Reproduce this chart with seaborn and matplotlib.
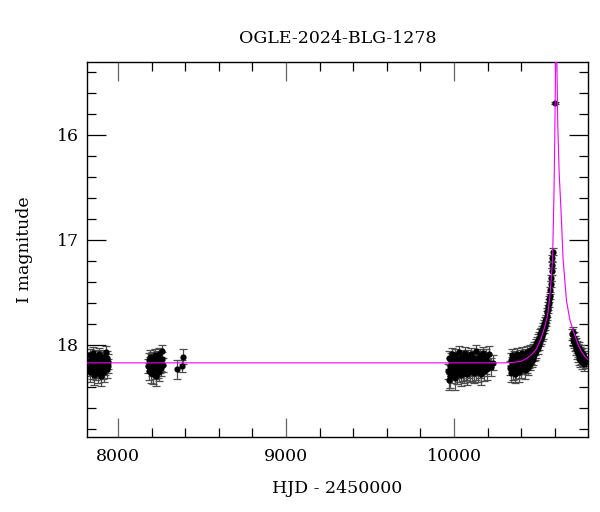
import matplotlib
matplotlib.use("Agg")
import matplotlib.pyplot as plt
import seaborn as sns
import pandas as pd
import numpy as np
from matplotlib.ticker import MultipleLocator

# ---------------- data ----------------
s1_t = [7825, 7828, 7831, 7833, 7836, 7839, 7842, 7845, 7848, 7851,
        7854, 7857, 7860, 7863, 7866, 7869, 7872, 7875, 7878, 7881,
        7884, 7887, 7890, 7893, 7896, 7899, 7902, 7905, 7908, 7911,
        7914, 7917, 7920, 7923, 7926, 7929, 7932, 7935, 7938, 7942]
s1_m = [18.15, 18.22, 18.10, 18.26, 18.18, 18.13, 18.24, 18.20, 18.08, 18.17,
        18.29, 18.14, 18.21, 18.11, 18.25, 18.19, 18.16, 18.23, 18.12, 18.27,
        18.18, 18.09, 18.22, 18.15, 18.30, 18.20, 18.13, 18.17, 18.24, 18.11,
        18.19, 18.26, 18.14, 18.21, 18.07, 18.18, 18.23, 18.12, 18.20, 18.16]
s1_e = [0.07, 0.08, 0.06, 0.09, 0.07, 0.06, 0.08, 0.07, 0.06, 0.07,
        0.09, 0.06, 0.08, 0.06, 0.08, 0.07, 0.06, 0.08, 0.06, 0.09,
        0.07, 0.06, 0.08, 0.07, 0.09, 0.07, 0.06, 0.07, 0.08, 0.06,
        0.07, 0.09, 0.06, 0.08, 0.06, 0.07, 0.08, 0.06, 0.07, 0.07]

s2_t = [8180, 8183, 8186, 8189, 8192, 8195, 8198, 8201, 8204, 8207,
        8210, 8213, 8216, 8219, 8222, 8225, 8228, 8231, 8234, 8237,
        8240, 8243, 8246, 8249, 8252, 8255, 8258, 8261, 8264, 8268]
s2_m = [18.20, 18.14, 18.25, 18.18, 18.11, 18.27, 18.16, 18.22, 18.13, 18.19,
        18.28, 18.15, 18.21, 18.10, 18.24, 18.17, 18.30, 18.19, 18.12, 18.23,
        18.16, 18.26, 18.09, 18.20, 18.14, 18.22, 18.18, 18.06, 18.13, 18.19]
s2_e = [0.07, 0.06, 0.08, 0.07, 0.06, 0.09, 0.07, 0.08, 0.06, 0.07,
        0.09, 0.06, 0.08, 0.06, 0.08, 0.07, 0.09, 0.07, 0.06, 0.08,
        0.07, 0.08, 0.06, 0.07, 0.06, 0.08, 0.07, 0.06, 0.06, 0.07]

iso_t = [8353, 8383, 8389]
iso_m = [18.23, 18.20, 18.11]
iso_e = [0.09, 0.06, 0.07]

s3_t = [9966, 9969, 9972, 9975, 9978, 9981, 9984, 9987, 9990, 9993,
        9996, 9999, 10002, 10005, 10008, 10011, 10014, 10017, 10020, 10023,
        10026, 10029, 10032, 10035, 10038, 10041, 10044, 10047, 10050, 10053,
        10056, 10059, 10062, 10065, 10068, 10071, 10074, 10077, 10080, 10083,
        10086, 10089, 10092, 10095, 10098, 10101, 10104, 10107, 10110, 10113,
        10116, 10119, 10122, 10125, 10128, 10131, 10134, 10137, 10140, 10143,
        10146, 10149, 10152, 10155, 10158, 10161, 10164, 10167, 10170, 10173,
        10176, 10180, 10184, 10188, 10192, 10197, 10202, 10210, 10220, 10232]
s3_m = [18.25, 18.33, 18.12, 18.20, 18.30, 18.15, 18.22, 18.09, 18.27, 18.18,
        18.13, 18.24, 18.19, 18.31, 18.10, 18.21, 18.16, 18.28, 18.14, 18.23,
        18.18, 18.07, 18.26, 18.20, 18.12, 18.29, 18.17, 18.22, 18.11, 18.25,
        18.15, 18.19, 18.27, 18.08, 18.21, 18.16, 18.24, 18.13, 18.28, 18.18,
        18.11, 18.23, 18.17, 18.26, 18.14, 18.20, 18.09, 18.25, 18.19, 18.15,
        18.22, 18.12, 18.27, 18.17, 18.21, 18.06, 18.24, 18.18, 18.13, 18.26,
        18.16, 18.20, 18.10, 18.23, 18.15, 18.28, 18.19, 18.12, 18.22, 18.08,
        18.17, 18.25, 18.14, 18.20, 18.11, 18.23, 18.16, 18.09, 18.21, 18.17]
s3_e = [0.07, 0.10, 0.06, 0.08, 0.11, 0.07, 0.08, 0.06, 0.09, 0.07,
        0.06, 0.08, 0.07, 0.12, 0.06, 0.08, 0.07, 0.09, 0.06, 0.08,
        0.07, 0.06, 0.09, 0.08, 0.06, 0.10, 0.07, 0.08, 0.06, 0.09,
        0.07, 0.08, 0.09, 0.06, 0.08, 0.07, 0.09, 0.06, 0.10, 0.07,
        0.06, 0.08, 0.07, 0.09, 0.06, 0.08, 0.06, 0.09, 0.07, 0.07,
        0.08, 0.06, 0.09, 0.07, 0.08, 0.06, 0.09, 0.07, 0.06, 0.09,
        0.07, 0.08, 0.06, 0.08, 0.07, 0.10, 0.08, 0.06, 0.08, 0.06,
        0.07, 0.09, 0.06, 0.08, 0.07, 0.10, 0.07, 0.08, 0.09, 0.07]

s4_t = [10336, 10339, 10342, 10345, 10348, 10351, 10354, 10357, 10360, 10363,
        10366, 10369, 10372, 10375, 10378, 10381, 10384, 10387, 10390, 10393,
        10396, 10399, 10402, 10405, 10408, 10411, 10414, 10417, 10420, 10423,
        10426, 10429, 10432, 10435, 10438, 10441, 10444, 10447, 10450, 10453,
        10456, 10459, 10462, 10465, 10468, 10471, 10474, 10477, 10480, 10483,
        10486, 10489, 10492, 10495, 10498, 10501, 10504, 10507, 10510, 10513,
        10516, 10519, 10522, 10525, 10528, 10531, 10534, 10537, 10540, 10543]
s4_m = [18.22, 18.14, 18.27, 18.18, 18.10, 18.25, 18.16, 18.21, 18.12, 18.28,
        18.19, 18.13, 18.24, 18.17, 18.09, 18.22, 18.15, 18.26, 18.18, 18.11,
        18.20, 18.14, 18.23, 18.16, 18.08, 18.21, 18.13, 18.19, 18.24, 18.10,
        18.17, 18.12, 18.20, 18.07, 18.15, 18.22, 18.11, 18.16, 18.05, 18.18,
        18.12, 18.06, 18.15, 18.09, 18.13, 18.04, 18.10, 18.02, 18.08, 18.05,
        17.99, 18.06, 18.01, 17.97, 18.03, 17.95, 18.00, 17.93, 17.96, 17.90,
        17.94, 17.88, 17.91, 17.86, 17.89, 17.83, 17.85, 17.80, 17.82, 17.77]
s4_e = [0.07, 0.06, 0.08, 0.07, 0.06, 0.08, 0.07, 0.07, 0.06, 0.08,
        0.07, 0.06, 0.08, 0.06, 0.06, 0.07, 0.06, 0.09, 0.07, 0.06,
        0.07, 0.06, 0.08, 0.06, 0.06, 0.07, 0.06, 0.07, 0.08, 0.06,
        0.06, 0.06, 0.07, 0.06, 0.06, 0.07, 0.06, 0.06, 0.05, 0.06,
        0.06, 0.05, 0.06, 0.05, 0.06, 0.05, 0.05, 0.05, 0.06, 0.05,
        0.05, 0.06, 0.05, 0.05, 0.06, 0.05, 0.05, 0.05, 0.05, 0.05,
        0.05, 0.04, 0.05, 0.04, 0.05, 0.04, 0.04, 0.04, 0.04, 0.04]

rise_t = [10546, 10549, 10552, 10555, 10558, 10561, 10564, 10567, 10570, 10573,
          10576, 10579, 10581, 10583, 10585, 10587, 10603]
rise_m = [17.78, 17.75, 17.72, 17.69, 17.66, 17.63, 17.60, 17.56, 17.53, 17.48,
          17.42, 17.36, 17.30, 17.24, 17.17, 17.11, 15.70]
rise_e = [0.04, 0.04, 0.04, 0.04, 0.04, 0.04, 0.04, 0.03, 0.03, 0.03,
          0.03, 0.03, 0.03, 0.03, 0.03, 0.03, 0.01]

s5_t = [10705, 10708, 10711, 10714, 10717, 10720, 10723, 10726, 10729, 10732,
        10735, 10738, 10741, 10744, 10747, 10750, 10753, 10756, 10759, 10762,
        10766, 10770, 10775, 10780, 10786]
s5_m = [17.90, 17.95, 17.88, 17.97, 17.93, 18.00, 17.96, 18.04, 17.99, 18.06,
        18.02, 18.09, 18.05, 18.12, 18.03, 18.08, 18.14, 18.06, 18.11, 18.16,
        18.09, 18.13, 18.18, 18.12, 18.15]
s5_e = [0.05, 0.06, 0.05, 0.06, 0.05, 0.06, 0.05, 0.06, 0.06, 0.07,
        0.06, 0.07, 0.06, 0.07, 0.06, 0.06, 0.07, 0.06, 0.07, 0.07,
        0.06, 0.07, 0.07, 0.06, 0.07]

# model curve
curve_t = [7815, 10300, 10355, 10400, 10430, 10457, 10490, 10518, 10540, 10558,
           10570, 10578, 10587, 10595, 10600, 10603, 10605, 10608, 10611, 10614,
           10618, 10626, 10637, 10650, 10670, 10690, 10711, 10740, 10762, 10780, 10800]
curve_m = [18.17, 18.17, 18.165, 18.155, 18.13, 18.10, 18.04, 17.94, 17.83, 17.71,
           17.55, 17.39, 17.19, 16.60, 16.05, 15.62, 15.30, 14.60, 15.05, 15.45,
           15.90, 16.35, 16.71, 17.19, 17.58, 17.76, 17.87, 18.00, 18.07, 18.11, 18.14]

title = "OGLE-2024-BLG-1278"
xlabel = "HJD - 2450000"
ylabel = "I magnitude"

# ---------------- build table ----------------
obs = pd.DataFrame({
    "t": s1_t + s2_t + iso_t + s3_t + s4_t + rise_t + s5_t,
    "mag": s1_m + s2_m + iso_m + s3_m + s4_m + rise_m + s5_m,
    "err": s1_e + s2_e + iso_e + s3_e + s4_e + rise_e + s5_e,
})
model = pd.DataFrame({"t": curve_t, "mag": curve_m})

sns.set_theme(style="ticks")
plt.rcParams["font.family"] = ["DejaVu Serif"]
plt.rcParams["text.color"] = "black"
plt.rcParams["axes.labelcolor"] = "black"
plt.rcParams["xtick.color"] = "black"
plt.rcParams["ytick.color"] = "black"

fig = plt.figure(figsize=(6, 5.12), dpi=100)
ax = fig.add_axes([0.145, 0.1465, 0.835, 0.7325])

ax.errorbar(obs["t"], obs["mag"], yerr=obs["err"], fmt="none",
            ecolor="0.3", elinewidth=0.9, capsize=2.8, capthick=0.9, zorder=2)
sns.scatterplot(data=obs, x="t", y="mag", ax=ax, color="black", s=20,
                linewidth=0, zorder=3, legend=False)
sns.lineplot(data=model, x="t", y="mag", ax=ax, color="#f000f8", linewidth=0.8,
             sort=False, estimator=None, zorder=4)

ax.set_xlim(7815, 10798)
ax.set_ylim(18.876, 15.305)
ax.xaxis.set_major_locator(MultipleLocator(1000))
ax.xaxis.set_minor_locator(MultipleLocator(200))
ax.yaxis.set_major_locator(MultipleLocator(1))
ax.yaxis.set_minor_locator(MultipleLocator(0.2))

ax.tick_params(axis="both", which="both", direction="in", top=True, right=True,
               labelcolor="black", labelsize=12.5)
ax.tick_params(axis="both", which="major", length=13.5, width=0.9, color="black")
ax.tick_params(axis="both", which="minor", length=6.5, width=0.9, color="black")
ax.tick_params(axis="x", which="major", pad=8, color="0.4")
ax.tick_params(axis="y", which="major", pad=6)
for sp in ax.spines.values():
    sp.set_linewidth(1.0)
    sp.set_color("black")

ax.set_title(title, fontsize=12.5, pad=14, color="black")
ax.set_xlabel(xlabel, fontsize=12.5, labelpad=11, color="black")
ax.set_ylabel(ylabel, fontsize=12.5, labelpad=17, color="black")

fig.savefig("out.png", dpi=100)
